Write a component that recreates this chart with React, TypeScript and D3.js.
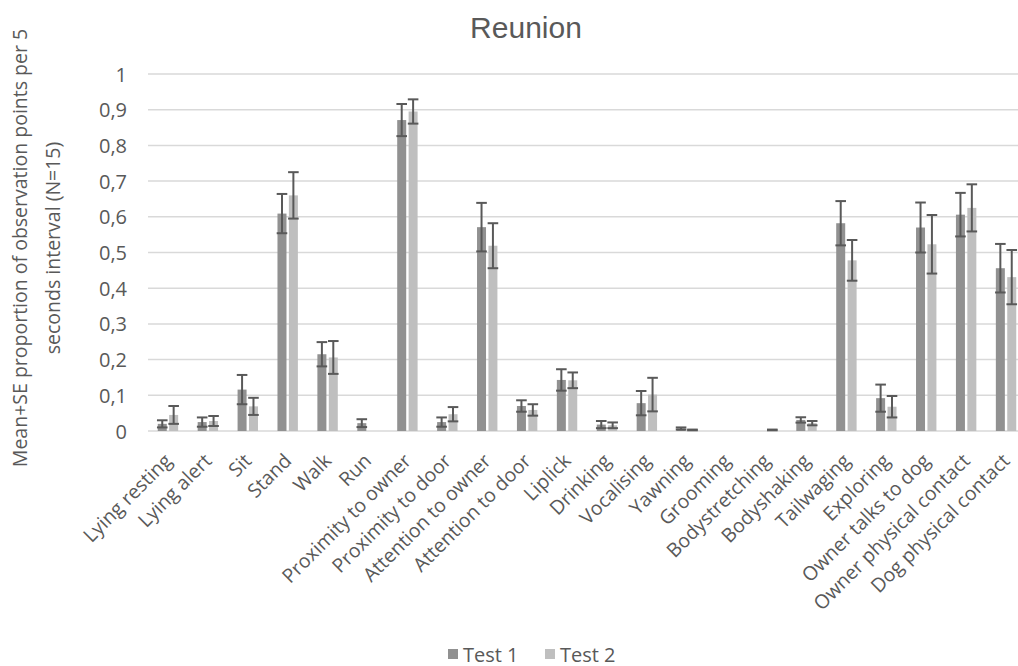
import * as d3 from "d3";

const categories = [
  "Lying resting", "Lying alert", "Sit", "Stand", "Walk", "Run",
  "Proximity to owner", "Proximity to door", "Attention to owner", "Attention to door",
  "Liplick", "Drinking", "Vocalising", "Yawning", "Grooming", "Bodystretching",
  "Bodyshaking", "Tailwaging", "Exploring", "Owner talks to dog",
  "Owner physical contact", "Dog physical contact",
];
const seriesNames = ["Test 1", "Test 2"];
const test1 = [0.02, 0.025, 0.116, 0.609, 0.215, 0.022, 0.871, 0.025, 0.571, 0.07, 0.143, 0.018, 0.078, 0.007, 0, 0, 0.031, 0.582, 0.092, 0.57, 0.606, 0.456];
const se1 = [0.01, 0.013, 0.041, 0.055, 0.034, 0.011, 0.045, 0.013, 0.068, 0.016, 0.03, 0.01, 0.034, 0.003, 0, 0, 0.0075, 0.062, 0.038, 0.07, 0.061, 0.068];
const test2 = [0.045, 0.028, 0.069, 0.66, 0.206, 0, 0.895, 0.047, 0.519, 0.059, 0.142, 0.016, 0.102, 0.003, 0, 0.003, 0.022, 0.478, 0.068, 0.523, 0.625, 0.431];
const se2 = [0.025, 0.014, 0.024, 0.065, 0.046, 0, 0.034, 0.02, 0.063, 0.016, 0.022, 0.008, 0.047, 0.001, 0, 0.001, 0.006, 0.057, 0.03, 0.082, 0.066, 0.076];
const yTickValues = [0, 0.1, 0.2, 0.3, 0.4, 0.5, 0.6, 0.7, 0.8, 0.9, 1];

const W = 1018;
const H = 666;
const PLOT = { left: 148, right: 1026, top: 74, bottom: 431 };
const COLORS = ["#919191", "#bfbfbf"];
const TEXT = "#595959";
const FONT = "'Open Sans', sans-serif";

export default function App() {
  const x = d3.scaleBand<string>().domain(categories).range([PLOT.left, PLOT.right]);
  const half = x.bandwidth() / 2;
  const x1 = d3.scaleBand<string>().domain(seriesNames).range([half - 10.2, half + 10.2]).paddingInner(0.21);
  const y = d3.scaleLinear().domain([0, 1]).range([PLOT.bottom, PLOT.top]);

  const data = [
    { name: seriesNames[0], values: test1, se: se1 },
    { name: seriesNames[1], values: test2, se: se2 },
  ];
  const fmt = (t: number) => (t === 0 || t === 1 ? String(t) : t.toFixed(1).replace(".", ","));

  return (
    <svg width={W} height={H} style={{ position: "absolute", left: 0, top: 0, background: "#fff" }}>
      <text x={526} y={38} textAnchor="middle" fontSize={30} fill={TEXT} fontFamily="'Liberation Sans', Arial, sans-serif">
        Reunion
      </text>

      {yTickValues.map((t) => (
        <g key={t}>
          <line x1={PLOT.left} x2={PLOT.right} y1={y(t)} y2={y(t)} stroke="#d9d9d9" strokeWidth={1.5} />
          <text x={127} y={y(t)} textAnchor="end" dominantBaseline="central" fontSize={20} fill={TEXT} fontFamily={FONT}>
            {fmt(t)}
          </text>
        </g>
      ))}

      <text transform="translate(0,248) rotate(-90)" textAnchor="middle" fontSize={19.5} fill={TEXT} fontFamily={FONT}>
        <tspan x={0} y={27}>Mean+SE proportion of observation points per 5</tspan>
        <tspan x={0} y={60}>seconds interval (N=15)</tspan>
      </text>

      {data.map((s, si) => (
        <g key={s.name}>
          {categories.map((c, i) => {
            const bx = (x(c) ?? 0) + (x1(s.name) ?? 0);
            const v = s.values[i];
            return (
              <rect key={c} x={bx} y={y(v)} width={x1.bandwidth()} height={y(0) - y(v)} fill={COLORS[si]} />
            );
          })}
        </g>
      ))}

      {data.map((s) => (
        <g key={`err-${s.name}`} stroke="#595959" strokeWidth={2}>
          {categories.map((c, i) => {
            const v = s.values[i];
            const e = s.se[i];
            if (v === 0 && e === 0) return null;
            const cx = (x(c) ?? 0) + (x1(s.name) ?? 0) + x1.bandwidth() / 2;
            return (
              <g key={c}>
                <line x1={cx} x2={cx} y1={y(v - e)} y2={y(v + e)} />
                <line x1={cx - 5.3} x2={cx + 5.3} y1={y(v + e)} y2={y(v + e)} />
                <line x1={cx - 5.3} x2={cx + 5.3} y1={y(v - e)} y2={y(v - e)} />
              </g>
            );
          })}
        </g>
      ))}

      {categories.map((c) => {
        const cx = (x(c) ?? 0) + half;
        return (
          <text
            key={c}
            transform={`translate(${cx + 5},${PLOT.bottom + 31}) rotate(-45)`}
            textAnchor="end"
            fontSize={19.5}
            fill={TEXT}
            fontFamily={FONT}
          >
            {c}
          </text>
        );
      })}

      {seriesNames.map((n, i) => {
        const lx = [448, 545][i];
        return (
          <g key={n}>
            <rect x={lx} y={649} width={10} height={10} fill={COLORS[i]} />
            <text x={lx + 15} y={654} dominantBaseline="central" fontSize={20} fill={TEXT} fontFamily={FONT}>
              {n}
            </text>
          </g>
        );
      })}
    </svg>
  );
}
